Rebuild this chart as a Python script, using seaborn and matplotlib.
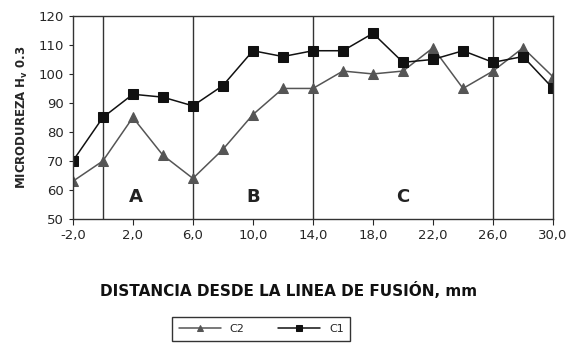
import pandas as pd
import matplotlib.pyplot as plt
import seaborn as sns

# datos
distancia = [-2, 0, 2, 4, 6, 8, 10, 12, 14, 16, 18, 20, 22, 24, 26, 28, 30]
c1 = [70, 85, 93, 92, 89, 96, 108, 106, 108, 108, 114, 104, 105, 108, 104, 106, 95]
c2 = [63, 70, 85, 72, 64, 74, 86, 95, 95, 101, 100, 101, 109, 95, 101, 109, 99]
zonas = ["A", "B", "C"]
zonas_x = [2.2, 10.0, 20.0]
limites = [0, 6, 14, 26]
xticks = [-2, 2, 6, 10, 14, 18, 22, 26, 30]

df = pd.DataFrame({
    "x": distancia * 2,
    "y": c2 + c1,
    "serie": ["C2"] * len(c2) + ["C1"] * len(c1),
})

sns.set_style("white")
fig = plt.figure(figsize=(5.69, 3.46), dpi=100)
ax = fig.add_axes([0.128, 0.367, 0.844, 0.587])

sns.lineplot(data=df, x="x", y="y", hue="serie", style="serie",
             markers={"C2": "^", "C1": "s"}, dashes=False,
             palette={"C2": "#555555", "C1": "#111111"},
             markersize=7, linewidth=1.1, markeredgecolor=None, ax=ax, legend=True)

for xv in limites:
    ax.axvline(xv, color="#333333", lw=1.0, zorder=0)

for t, xv in zip(zonas, zonas_x):
    ax.text(xv, 57.5, t, ha="center", va="center", fontsize=13, fontweight="bold", color="#222222")

ax.set_xlim(-2, 30)
ax.set_ylim(50, 120)
ax.set_xticks(xticks)
ax.set_xticklabels([f"{v:.1f}".replace(".", ",") for v in xticks], fontsize=9.5)
ax.set_yticks(range(50, 121, 10))
ax.tick_params(axis="y", labelsize=9.5, length=3, left=True)
ax.tick_params(axis="x", length=4, bottom=True, direction="out")
for s in ax.spines.values():
    s.set_color("#333333")
    s.set_linewidth(1.0)

ax.set_xlabel("")
fig.text(0.507, 1 - 290 / 346, "DISTANCIA DESDE LA LINEA DE FUSIÓN, mm",
         ha="center", va="center", fontsize=11, fontweight="bold", color="#111111")
ax.set_ylabel("MICRODUREZA H$_\\mathbf{v}$ 0.3", fontsize=8.5, fontweight="bold", labelpad=6)

leg = ax.legend(loc="center", bbox_to_anchor=(0.459, 1 - 329 / 346), bbox_transform=fig.transFigure,
                ncol=2, fontsize=8, frameon=True, fancybox=False, edgecolor="black",
                handlelength=3.8, columnspacing=3.0, markerscale=0.6,
                borderpad=0.6, borderaxespad=0)
leg.get_frame().set_linewidth(1.0)

plt.savefig("out.png", dpi=100)
plt.close()
